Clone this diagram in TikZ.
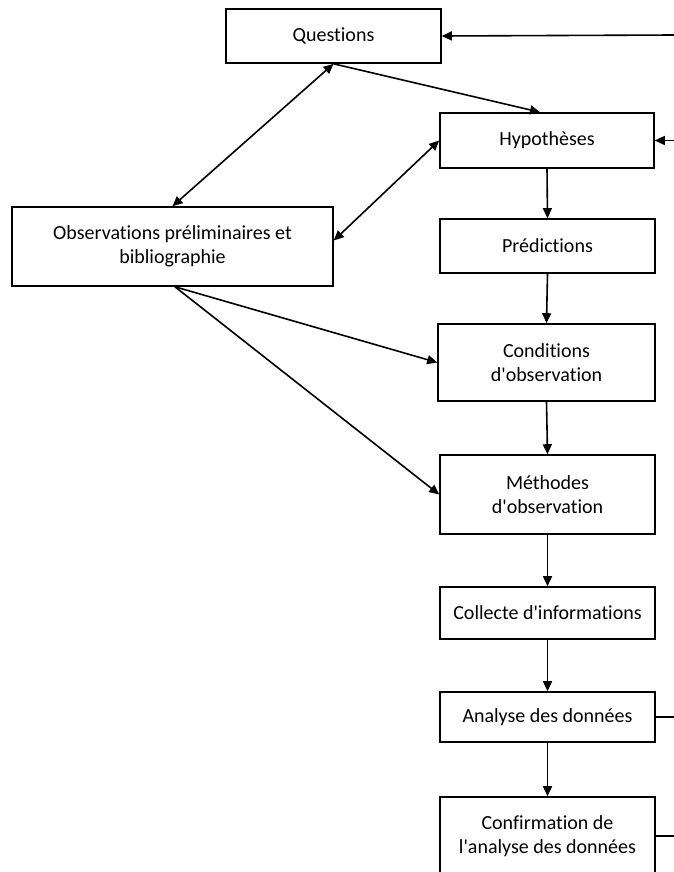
\documentclass[tikz,border=0pt]{standalone}
\usepackage{fontspec}
\setmainfont{Carlito}[Ligatures={NoCommon}]
\usetikzlibrary{arrows.meta}
\newcommand{\apos}{\textquotesingle}
\begin{document}
\begin{tikzpicture}[x=1pt,y=-1pt,
  box/.style={draw, line width=1.6pt, inner sep=0pt, align=center, font=\fontsize{20}{24}\selectfont},
  conn/.style={line width=1.6pt, -{Triangle[length=10pt,width=9pt]}},
  dconn/.style={line width=1.6pt, {Triangle[length=10pt,width=9pt]}-{Triangle[length=10pt,width=9pt]}},
  plain/.style={line width=1.6pt}]
\useasboundingbox (0,0) rectangle (674,872);
\node[box, minimum width=215pt, minimum height=54pt] (Q) at (333.5,36) {Questions};
\node[box, minimum width=214pt, minimum height=55pt] (H) at (547,140.5) {Hypothèses};
\node[box, minimum width=321pt, minimum height=79pt] (O) at (172.5,246.5) {Observations préliminaires et\\bibliographie};
\node[box, minimum width=215pt, minimum height=54pt] (P) at (547.5,246) {Prédictions};
\node[box, minimum width=217pt, minimum height=77pt] (C) at (546.5,362.5) {Conditions\\d\apos observation};
\node[box, minimum width=215pt, minimum height=79pt] (M) at (547.5,494.5) {Méthodes\\d\apos observation};
\node[box, minimum width=215pt, minimum height=52pt] (K) at (547.5,613) {Collecte d\apos informations};
\node[box, minimum width=215pt, minimum height=50pt] (A) at (547.5,717) {Analyse des données};
\node[box, minimum width=215pt, minimum height=78pt] (F) at (547.5,836) {Confirmation de\\l\apos analyse des données};
\coordinate (qin) at (674,35);
\coordinate (hin) at (674,140.5);
\coordinate (aout) at (674,717);
\coordinate (fout) at (674,836);
\draw[conn] (qin) -- (Q.east);
\draw[conn] (hin) -- (H.east);
\draw[conn] (Q.south) -- ([xshift=-7pt]H.north);
\draw[dconn] (O.north) -- (Q.south);
\draw[dconn] ([yshift=6pt]O.east) -- (H.west);
\draw[conn] ([xshift=2.5pt]O.south) -- (C.west);
\draw[conn] ([xshift=2.5pt]O.south) -- (M.west);
\draw[conn] (H.south) -- (P.north);
\draw[conn] (P.south) -- (C.north);
\draw[conn] (C.south) -- (M.north);
\draw[conn] (M.south) -- (K.north);
\draw[conn] (K.south) -- (A.north);
\draw[conn] (A.south) -- (F.north);
\draw[plain] (A.east) -- (aout);
\draw[plain] (F.east) -- (fout);
\end{tikzpicture}
\end{document}
